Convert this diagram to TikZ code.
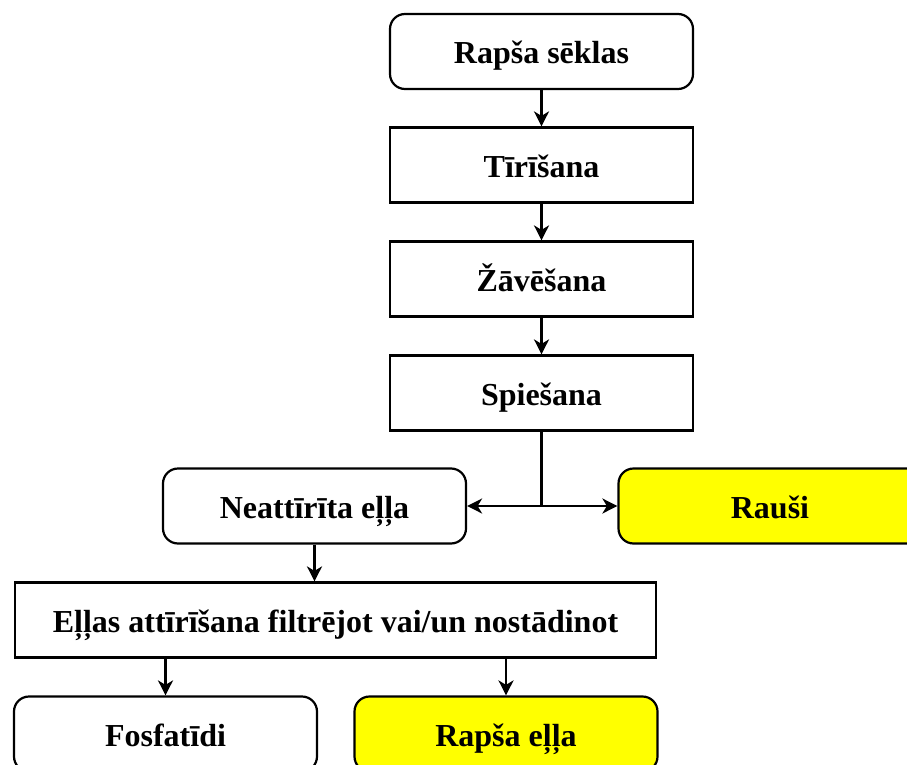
\documentclass[tikz,border=0pt]{standalone}
\usepackage{fontspec}
\setmainfont{Liberation Serif}
\usetikzlibrary{arrows.meta}
\definecolor{hlyellow}{RGB}{255,255,0}
\begin{document}
\begin{tikzpicture}[x=1pt,y=-1pt,
  box/.style={draw=black, line width=2.2pt, fill=white, minimum width=303pt, minimum height=75pt,
    inner sep=0pt, text height=30pt, text depth=6pt, font=\fontsize{32}{38}\selectfont\bfseries},
  rbox/.style={box, rounded corners=15pt},
  hl/.style={fill=hlyellow},
  flow/.style={line width=2.2pt, -{Stealth[length=15pt,width=15pt,inset=4.5pt]}},
  plain/.style={line width=2.2pt}]
\useasboundingbox (0,0) rectangle (907,765);
\clip (0,0) rectangle (907,765);
\fill[white] (0,0) rectangle (907,765);

% process chain
\node[rbox] (seeds) at (541.5,51.5) {Rapša sēklas};
\node[box]  (clean) at (541.5,165)  {Tīrīšana};
\node[box]  (dry)   at (541.5,279)  {Žāvēšana};
\node[box]  (press) at (541.5,393)  {Spiešana};

% pressing products
\node[rbox]     (crude) at (314.5,506) {Neattīrīta eļļa};
\node[rbox,hl]  (cake)  at (770,506)   {Rauši};

% refining
\node[box, minimum width=641pt] (refine) at (335.5,620) {Eļļas attīrīšana filtrējot vai/un nostādinot};
\node[rbox]    (phos) at (165.5,734) {Fosfatīdi};
\node[rbox,hl] (oil)  at (506,734)   {Rapša eļļa};

% connectors
\draw[flow] (seeds) -- (clean);
\draw[flow] (clean) -- (dry);
\draw[flow] (dry) -- (press);
\coordinate (split) at (press.south |- crude.east);
\draw[plain] (press.south) -- (split);
\draw[flow] (split) -- (crude.east);
\draw[flow] (split) -- (cake.west);
\draw[flow] (crude.south) -- (crude.south |- refine.north);
\draw[flow] (refine.south -| phos.north) -- (phos.north);
\draw[flow] (refine.south -| oil.north) -- (oil.north);
\end{tikzpicture}
\end{document}
